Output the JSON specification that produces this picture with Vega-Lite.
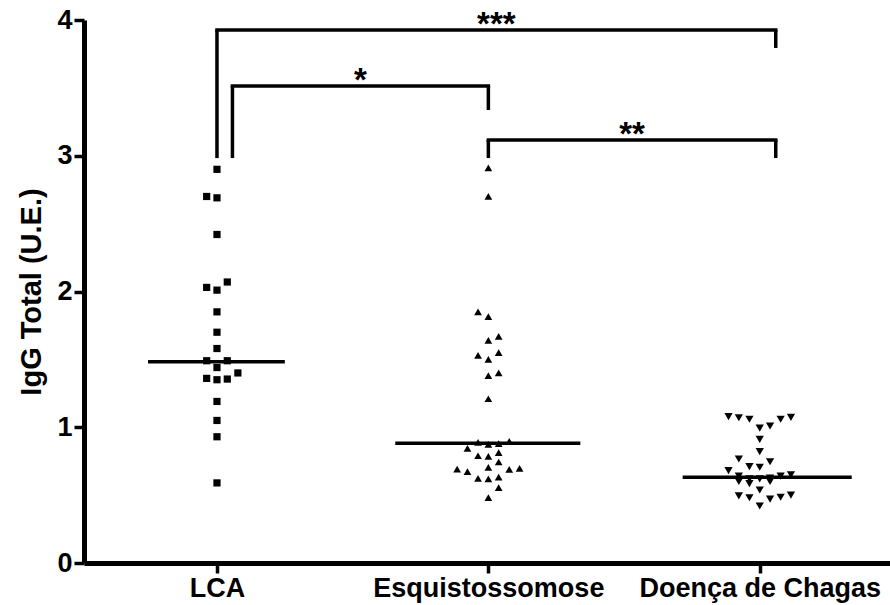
{
  "$schema": "https://vega.github.io/schema/vega-lite/v6.json",
  "autosize": {"type": "none"},
  "padding": {"left": 84, "top": 20, "right": 0, "bottom": 42},
  "width": 806,
  "height": 543,
  "background": "white",
  "config": {
    "view": {"stroke": null},
    "axis": {
      "grid": false,
      "domainColor": "black",
      "domainWidth": 5,
      "tickColor": "black",
      "tickWidth": 3.5,
      "tickSize": 10,
      "labelFont": "Liberation Sans",
      "labelFontWeight": "bold",
      "labelFontSize": 27,
      "labelColor": "black",
      "labelPadding": 2,
      "labelLimit": 0,
      "titleFont": "Liberation Sans",
      "titleFontWeight": "bold",
      "titleFontSize": 29,
      "titleColor": "black"
    }
  },
  "datasets": {
    "igg": [
      {"group": "LCA", "pos": 1.0, "igg": 2.90},
      {"group": "LCA", "pos": 0.962, "igg": 2.70},
      {"group": "LCA", "pos": 1.0, "igg": 2.69},
      {"group": "LCA", "pos": 1.0, "igg": 2.42},
      {"group": "LCA", "pos": 0.962, "igg": 2.03},
      {"group": "LCA", "pos": 1.0, "igg": 2.01},
      {"group": "LCA", "pos": 1.038, "igg": 2.07},
      {"group": "LCA", "pos": 1.0, "igg": 1.85},
      {"group": "LCA", "pos": 1.0, "igg": 1.70},
      {"group": "LCA", "pos": 1.0, "igg": 1.58},
      {"group": "LCA", "pos": 0.962, "igg": 1.49},
      {"group": "LCA", "pos": 1.038, "igg": 1.49},
      {"group": "LCA", "pos": 1.0, "igg": 1.44},
      {"group": "LCA", "pos": 1.077, "igg": 1.40},
      {"group": "LCA", "pos": 0.962, "igg": 1.36},
      {"group": "LCA", "pos": 1.0, "igg": 1.35},
      {"group": "LCA", "pos": 1.038, "igg": 1.355},
      {"group": "LCA", "pos": 1.0, "igg": 1.19},
      {"group": "LCA", "pos": 1.0, "igg": 1.05},
      {"group": "LCA", "pos": 1.0, "igg": 0.93},
      {"group": "LCA", "pos": 1.0, "igg": 0.59},
      {"group": "Esquistossomose", "pos": 2.0, "igg": 2.91},
      {"group": "Esquistossomose", "pos": 2.0, "igg": 2.70},
      {"group": "Esquistossomose", "pos": 1.962, "igg": 1.85},
      {"group": "Esquistossomose", "pos": 2.0, "igg": 1.815},
      {"group": "Esquistossomose", "pos": 2.038, "igg": 1.67},
      {"group": "Esquistossomose", "pos": 2.0, "igg": 1.64},
      {"group": "Esquistossomose", "pos": 2.038, "igg": 1.55},
      {"group": "Esquistossomose", "pos": 1.962, "igg": 1.53},
      {"group": "Esquistossomose", "pos": 2.0, "igg": 1.50},
      {"group": "Esquistossomose", "pos": 2.038, "igg": 1.40},
      {"group": "Esquistossomose", "pos": 2.0, "igg": 1.38},
      {"group": "Esquistossomose", "pos": 2.0, "igg": 1.21},
      {"group": "Esquistossomose", "pos": 1.962, "igg": 0.889},
      {"group": "Esquistossomose", "pos": 2.0, "igg": 0.874},
      {"group": "Esquistossomose", "pos": 2.038, "igg": 0.88},
      {"group": "Esquistossomose", "pos": 2.077, "igg": 0.896},
      {"group": "Esquistossomose", "pos": 1.923, "igg": 0.845},
      {"group": "Esquistossomose", "pos": 1.962, "igg": 0.79},
      {"group": "Esquistossomose", "pos": 2.0, "igg": 0.785},
      {"group": "Esquistossomose", "pos": 2.038, "igg": 0.813},
      {"group": "Esquistossomose", "pos": 2.038, "igg": 0.744},
      {"group": "Esquistossomose", "pos": 2.0, "igg": 0.705},
      {"group": "Esquistossomose", "pos": 1.885, "igg": 0.692},
      {"group": "Esquistossomose", "pos": 1.923, "igg": 0.673},
      {"group": "Esquistossomose", "pos": 2.077, "igg": 0.69},
      {"group": "Esquistossomose", "pos": 2.115, "igg": 0.697},
      {"group": "Esquistossomose", "pos": 1.962, "igg": 0.624},
      {"group": "Esquistossomose", "pos": 2.0, "igg": 0.619},
      {"group": "Esquistossomose", "pos": 2.038, "igg": 0.633},
      {"group": "Esquistossomose", "pos": 2.038, "igg": 0.555},
      {"group": "Esquistossomose", "pos": 2.0, "igg": 0.481},
      {"group": "Doença de Chagas", "pos": 2.885, "igg": 1.078},
      {"group": "Doença de Chagas", "pos": 2.923, "igg": 1.07},
      {"group": "Doença de Chagas", "pos": 2.962, "igg": 1.059},
      {"group": "Doença de Chagas", "pos": 3.077, "igg": 1.059},
      {"group": "Doença de Chagas", "pos": 3.115, "igg": 1.073},
      {"group": "Doença de Chagas", "pos": 3.0, "igg": 0.994},
      {"group": "Doença de Chagas", "pos": 3.038, "igg": 1.009},
      {"group": "Doença de Chagas", "pos": 3.0, "igg": 0.911},
      {"group": "Doença de Chagas", "pos": 3.0, "igg": 0.82},
      {"group": "Doença de Chagas", "pos": 2.923, "igg": 0.766},
      {"group": "Doença de Chagas", "pos": 3.038, "igg": 0.746},
      {"group": "Doença de Chagas", "pos": 2.962, "igg": 0.71},
      {"group": "Doença de Chagas", "pos": 3.0, "igg": 0.705},
      {"group": "Doença de Chagas", "pos": 2.885, "igg": 0.68},
      {"group": "Doença de Chagas", "pos": 2.923, "igg": 0.64},
      {"group": "Doença de Chagas", "pos": 2.923, "igg": 0.60},
      {"group": "Doença de Chagas", "pos": 2.962, "igg": 0.62},
      {"group": "Doença de Chagas", "pos": 2.962, "igg": 0.585},
      {"group": "Doença de Chagas", "pos": 3.0, "igg": 0.62},
      {"group": "Doença de Chagas", "pos": 3.038, "igg": 0.625},
      {"group": "Doença de Chagas", "pos": 3.038, "igg": 0.60},
      {"group": "Doença de Chagas", "pos": 3.077, "igg": 0.64},
      {"group": "Doença de Chagas", "pos": 3.115, "igg": 0.65},
      {"group": "Doença de Chagas", "pos": 3.0, "igg": 0.538},
      {"group": "Doença de Chagas", "pos": 2.923, "igg": 0.494},
      {"group": "Doença de Chagas", "pos": 2.962, "igg": 0.481},
      {"group": "Doença de Chagas", "pos": 3.038, "igg": 0.471},
      {"group": "Doença de Chagas", "pos": 3.077, "igg": 0.484},
      {"group": "Doença de Chagas", "pos": 3.115, "igg": 0.50},
      {"group": "Doença de Chagas", "pos": 3.0, "igg": 0.42}
    ],
    "medians": [
      {"group": "LCA", "from": 0.746, "to": 1.25, "median": 1.483},
      {"group": "Esquistossomose", "from": 1.657, "to": 2.339, "median": 0.882},
      {"group": "Doença de Chagas", "from": 2.716, "to": 3.339, "median": 0.631}
    ],
    "brackets": [
      {"label": "***", "from": 1.0, "to": 3.059, "top": 3.926, "left_end": 2.983, "right_end": 3.794},
      {"label": "*", "from": 1.057, "to": 2.0, "top": 3.514, "left_end": 2.983, "right_end": 3.337},
      {"label": "**", "from": 2.0, "to": 3.059, "top": 3.116, "left_end": 2.983, "right_end": 2.983}
    ]
  },
  "layer": [
    {
      "mark": {"type": "rule", "color": "#666666", "strokeWidth": 1.5, "strokeDash": [6, 4]},
      "encoding": {
        "y": {"datum": 1, "type": "quantitative", "scale": {"domain": [0, 4]}, "title": "IgG Total (U.E.)"}
      }
    },
    {
      "data": {"name": "medians"},
      "mark": {"type": "rule", "color": "black", "strokeWidth": 3.5},
      "encoding": {
        "x": {
          "field": "from", "type": "quantitative",
          "scale": {"domain": [0.51, 3.48], "nice": false, "zero": false},
          "title": null,
          "axis": {
            "values": [1, 2, 3],
            "labelExpr": "datum.value == 1 ? 'LCA' : datum.value == 2 ? 'Esquistossomose' : 'Doença de Chagas'"
          }
        },
        "x2": {"field": "to"},
        "y": {"field": "median", "type": "quantitative", "title": "IgG Total (U.E.)",
              "axis": {"values": [0, 1, 2, 3, 4], "format": "d", "titlePadding": 10}}
      }
    },
    {
      "data": {"name": "igg"},
      "mark": {"type": "point", "filled": true, "color": "black", "opacity": 1},
      "encoding": {
        "x": {"field": "pos", "type": "quantitative", "title": null},
        "y": {"field": "igg", "type": "quantitative", "title": "IgG Total (U.E.)"},
        "shape": {
          "field": "group", "type": "nominal", "legend": null,
          "scale": {"domain": ["LCA", "Esquistossomose", "Doença de Chagas"], "range": ["square", "triangle-up", "triangle-down"]}
        },
        "size": {
          "field": "group", "type": "nominal", "legend": null,
          "scale": {"domain": ["LCA", "Esquistossomose", "Doença de Chagas"], "range": [52, 68, 68]}
        }
      }
    },
    {
      "data": {"name": "brackets"},
      "mark": {"type": "rule", "color": "black", "strokeWidth": 3.5, "strokeCap": "square"},
      "encoding": {
        "x": {"field": "from", "type": "quantitative", "title": null},
        "x2": {"field": "to"},
        "y": {"field": "top", "type": "quantitative", "title": "IgG Total (U.E.)"}
      }
    },
    {
      "data": {"name": "brackets"},
      "mark": {"type": "rule", "color": "black", "strokeWidth": 3.5},
      "encoding": {
        "x": {"field": "from", "type": "quantitative", "title": null},
        "y": {"field": "left_end", "type": "quantitative", "title": "IgG Total (U.E.)"},
        "y2": {"field": "top"}
      }
    },
    {
      "data": {"name": "brackets"},
      "mark": {"type": "rule", "color": "black", "strokeWidth": 3.5},
      "encoding": {
        "x": {"field": "to", "type": "quantitative", "title": null},
        "y": {"field": "right_end", "type": "quantitative", "title": "IgG Total (U.E.)"},
        "y2": {"field": "top"}
      }
    },
    {
      "data": {"name": "brackets"},
      "transform": [
        {"fold": ["from", "to"], "as": ["end", "xpos"]},
        {"aggregate": [{"op": "mean", "field": "xpos", "as": "centre"}], "groupby": ["label", "top"]}
      ],
      "mark": {"type": "text", "font": "Liberation Sans", "fontWeight": "bold", "fontSize": 33, "color": "black", "align": "center", "baseline": "alphabetic", "dy": 5},
      "encoding": {
        "x": {"field": "centre", "type": "quantitative", "title": null},
        "y": {"field": "top", "type": "quantitative", "title": "IgG Total (U.E.)"},
        "text": {"field": "label"}
      }
    }
  ]
}
